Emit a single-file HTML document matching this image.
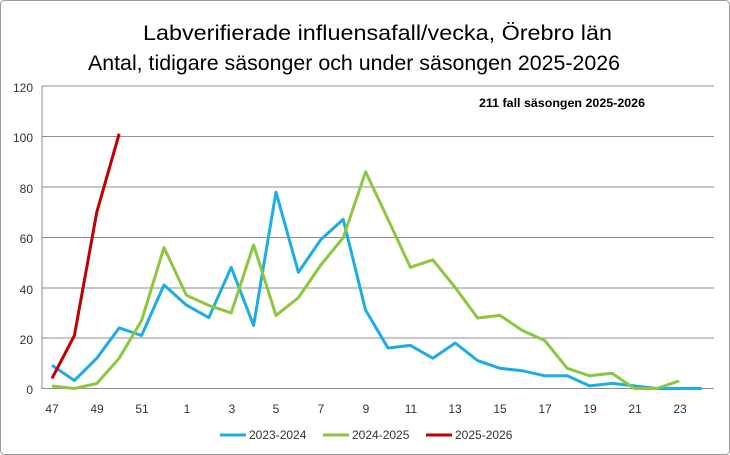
<!DOCTYPE html>
<html><head><meta charset="utf-8"><style>
body{margin:0;background:#fff}
svg{display:block;font-family:"Liberation Sans",sans-serif}
</style></head><body>
<svg width="730" height="455" viewBox="0 0 730 455">
<rect x="0.5" y="0.5" width="729" height="454" rx="4" fill="#fff" stroke="#9a9a9a"/>
<text x="143" y="40" font-size="21" textLength="469" lengthAdjust="spacingAndGlyphs" fill="#000">Labverifierade influensafall/vecka, Örebro län</text>
<text x="88" y="70" font-size="21" textLength="532" lengthAdjust="spacingAndGlyphs" fill="#000">Antal, tidigare säsonger och under säsongen 2025-2026</text>
<g stroke="#8c8c8c" stroke-width="1">
<line x1="42" y1="86" x2="714" y2="86"/>
<line x1="42" y1="136.5" x2="714" y2="136.5"/>
<line x1="42" y1="187" x2="714" y2="187"/>
<line x1="42" y1="237.5" x2="714" y2="237.5"/>
<line x1="42" y1="288" x2="714" y2="288"/>
<line x1="42" y1="338" x2="714" y2="338"/>
<line x1="42" y1="388.5" x2="714" y2="388.5"/>
<line x1="42" y1="86" x2="42" y2="389"/>
</g>
<g font-size="12" text-anchor="end" fill="#333">
<text x="33" y="92">120</text><text x="33" y="142">100</text><text x="33" y="193">80</text>
<text x="33" y="243">60</text><text x="33" y="294">40</text><text x="33" y="344">20</text><text x="33" y="394">0</text>
</g>
<g font-size="12" text-anchor="middle" fill="#333">
<text x="52" y="413">47</text><text x="97" y="413">49</text><text x="142" y="413">51</text><text x="187" y="413">1</text>
<text x="232" y="413">3</text><text x="276" y="413">5</text><text x="321" y="413">7</text><text x="366" y="413">9</text>
<text x="411" y="413">11</text><text x="455" y="413">13</text><text x="500" y="413">15</text><text x="545" y="413">17</text>
<text x="590" y="413">19</text><text x="635" y="413">21</text><text x="680" y="413">23</text>
</g>
<text x="562" y="107" font-size="12" font-weight="bold" text-anchor="middle" textLength="166" lengthAdjust="spacingAndGlyphs">211 fall säsongen 2025-2026</text>
<g fill="none" stroke-width="3" stroke-linejoin="round">
<polyline stroke="#1cade4" points="52,365.3 74.4,380.5 96.8,358.2 119.2,327.9 141.6,335.5 164,285 186.4,305.1 208.8,317.7 231.2,267.3 253.6,325.4 276,192.1 298.4,272.3 320.8,239.6 343.2,219.4 365.6,310.1 388,348 410.4,345.4 432.8,358.2 455.2,343 477.6,360.6 500,368.3 522.4,370.8 544.8,375.8 567.2,375.8 589.6,385.9 612,383.4 634.4,385.9 656.8,388.5 679.2,388.5 701.6,388.5"/>
<polyline stroke="#8dc63f" points="52,386 74.4,388.5 96.8,383.5 119.2,358.2 141.6,320.4 164,247.5 186.4,295.3 208.8,305.4 231.2,312.9 253.6,244.9 276,315.4 298.4,297.7 320.8,265 343.2,237.7 365.6,171.8 388,219.4 410.4,267.3 432.8,259.8 455.2,287.5 477.6,318 500,315.4 522.4,330.5 544.8,340.6 567.2,368.3 589.6,375.8 612,373.3 634.4,388.5 656.8,388.5 679.2,380.9"/>
<polyline stroke="#c00000" points="52,378.4 74.4,335.5 96.8,212.1 119.2,133.7"/>
</g>
<g font-size="12" fill="#333">
<line x1="220" y1="435" x2="246" y2="435" stroke="#1cade4" stroke-width="3"/><text x="249" y="439">2023-2024</text>
<line x1="323" y1="435" x2="349" y2="435" stroke="#8dc63f" stroke-width="3"/><text x="352" y="439">2024-2025</text>
<line x1="426" y1="435" x2="452" y2="435" stroke="#c00000" stroke-width="3"/><text x="455" y="439">2025-2026</text>
</g>
</svg>
</body></html>
